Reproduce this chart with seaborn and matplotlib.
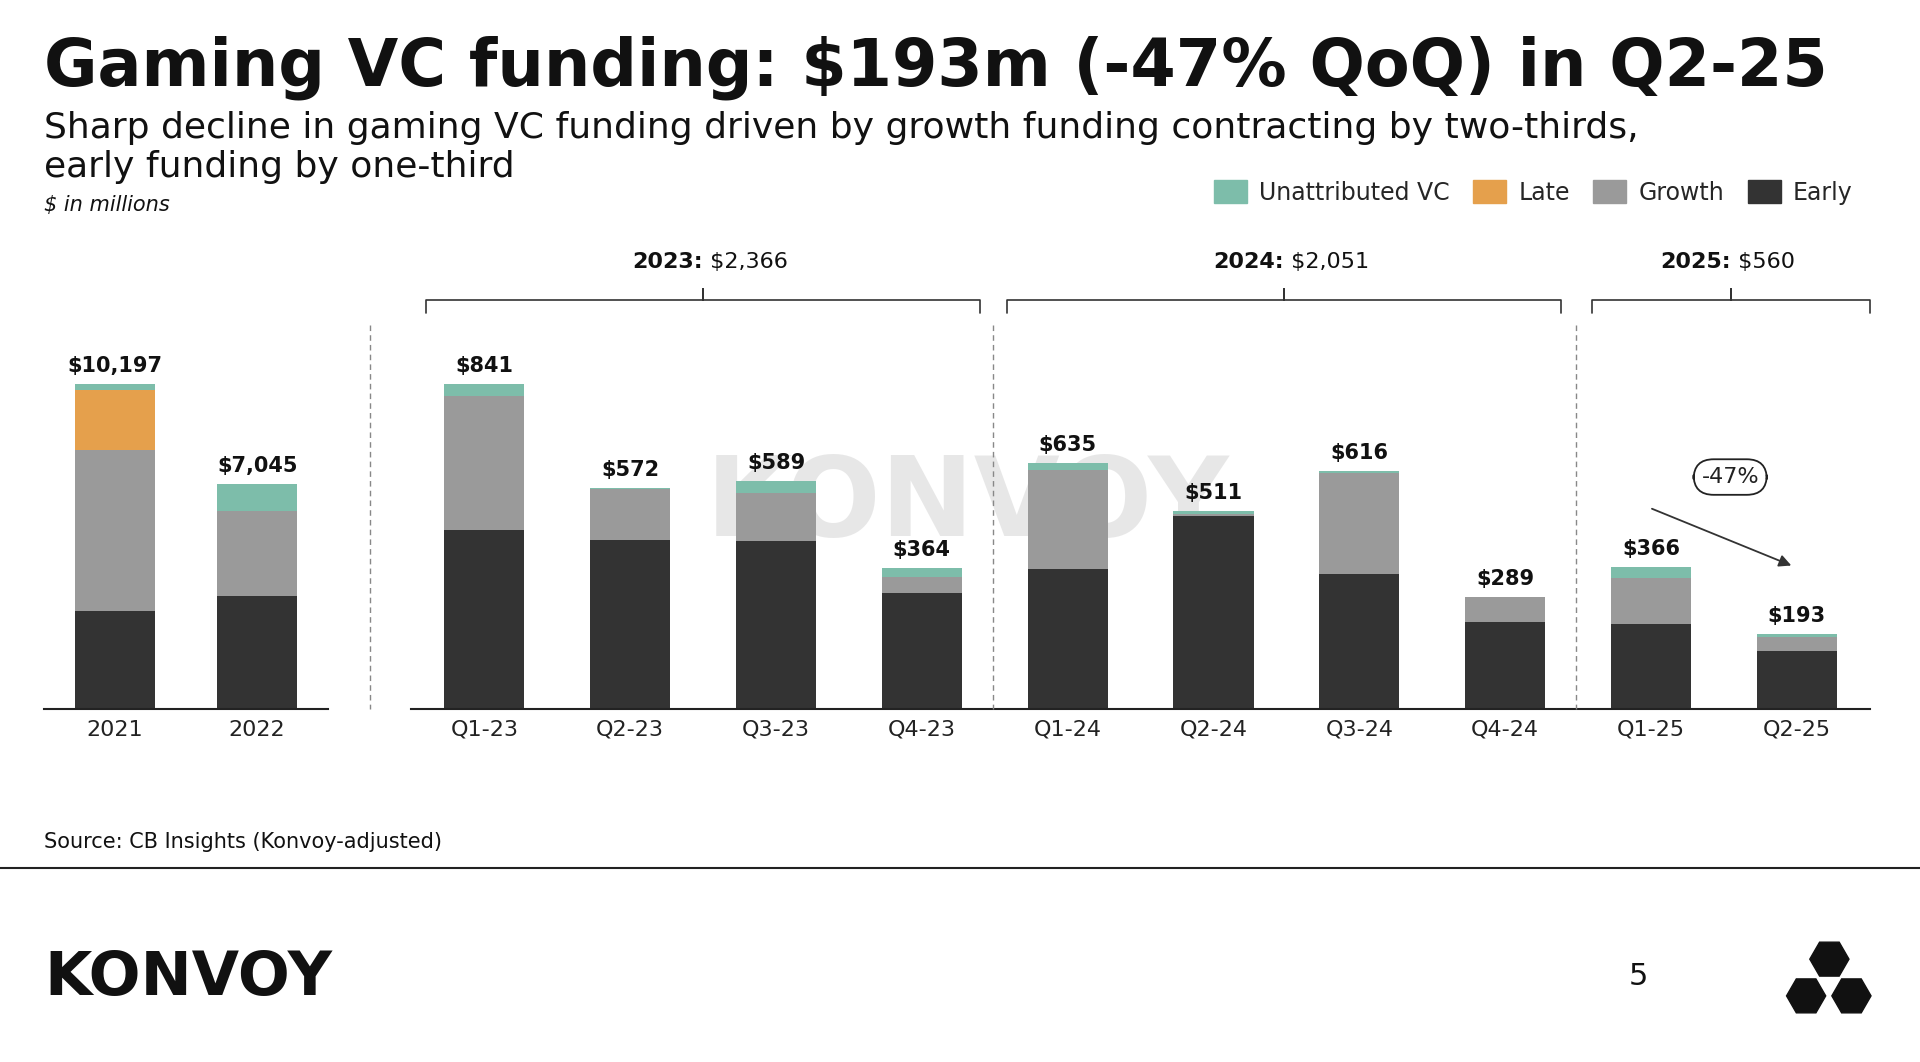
import matplotlib
matplotlib.use("Agg")
import matplotlib.pyplot as plt
import seaborn as sns
import pandas as pd
import numpy as np
from matplotlib.patches import RegularPolygon

sns.set_theme(style="white")
plt.rcParams['font.family'] = ['DejaVu Sans']

years = ["2021", "2022"]
y_early = [3080, 3540]
y_growth = [5040, 2660]
y_late = [1890, 0]
y_unattr = [187, 845]
y_totals = ["$10,197", "$7,045"]

quarters = ["Q1-23", "Q2-23", "Q3-23", "Q4-23", "Q1-24", "Q2-24", "Q3-24", "Q4-24", "Q1-25", "Q2-25"]
q_early = [463, 437, 434, 301, 361, 498, 349, 225, 219, 149]
q_growth = [346, 133, 124, 41, 257, 5, 260, 64, 120, 38]
q_late = [0, 0, 0, 0, 0, 0, 0, 0, 0, 0]
q_unattr = [32, 2, 31, 22, 17, 8, 7, 0, 27, 6]
q_totals = ["$841", "$572", "$589", "$364", "$635", "$511", "$616", "$289", "$366", "$193"]

groups = ["2023:", "2024:", "2025:"]
group_vals = [" $2,366", " $2,051", " $560"]

C_UN, C_LATE, C_GR, C_EAR = "#7dbdaa", "#e5a04c", "#9a9a9a", "#333333"

W, H = 1568, 866
fig = plt.figure(figsize=(19.2, 10.62), dpi=100)
fx = lambda x: x / W
fy = lambda y: 1 - y / H

# watermark behind everything
fig.text(fx(790), fy(412), "KONVOY", ha="center", va="center", fontsize=80, fontweight="bold",
         color="#d8d8d8", alpha=0.6, zorder=-5)

def stacked(ax, cats, early, growth, late, unattr, labels, width):
    ax.patch.set_alpha(0)
    e = np.array(early); g = np.array(growth); l = np.array(late); u = np.array(unattr)
    layers = [(e + g + l + u, C_UN), (e + g + l, C_LATE), (e + g, C_GR), (e, C_EAR)]
    for vals, col in layers:
        df = pd.DataFrame({"cat": cats, "v": vals})
        sns.barplot(data=df, x="cat", y="v", order=cats, color=col, saturation=1,
                    width=width, ax=ax, linewidth=0)
    tot = e + g + l + u
    top = ax.get_ylim()[1]
    for i, t in enumerate(tot):
        ax.text(i, t + top * 0.025, labels[i], ha="center", va="bottom",
                fontsize=15, fontweight="bold", color="#111111")
    ax.set_xlabel(""); ax.set_ylabel("")
    ax.set_yticks([])
    for s in ["top", "right", "left"]:
        ax.spines[s].set_visible(False)
    ax.spines["bottom"].set_color("#222222")
    ax.spines["bottom"].set_linewidth(1.5)
    ax.tick_params(axis="x", labelsize=16, colors="#222222", length=0, pad=8)

axL = fig.add_axes([fx(36), fy(578), fx(268 - 36), (578 - 313) / H])
axL.set_ylim(0, 10197)
stacked(axL, years, y_early, y_growth, y_late, y_unattr, y_totals, 0.56)
axL.set_xlim(-0.5, 1.5)
axL.set_ylim(0, 10197)

axR = fig.add_axes([fx(336), fy(578), fx(1527 - 336), (578 - 313) / H])
axR.set_ylim(0, 841)
stacked(axR, quarters, q_early, q_growth, q_late, q_unattr, q_totals, 0.55)
axR.set_xlim(-0.5, 9.5)
axR.set_ylim(0, 841)

# dashed separators
for xs in [302, 811, 1287]:
    fig.add_artist(plt.Line2D([fx(xs)] * 2, [fy(265), fy(578)], color="#888888", ls=(0, (4, 3)), lw=1))

# brackets
for (x0, x1), gname, gval in zip([(348, 800), (822, 1275), (1300, 1527)], groups, group_vals):
    xm = (x0 + x1) / 2
    xs = [x0, x0, xm, xm, xm, x1, x1]
    ys = [255, 245, 245, 236, 245, 245, 255]
    fig.add_artist(plt.Line2D([fx(v) for v in xs], [fy(v) for v in ys], color="#333333", lw=1.2))
    fig.text(fx(xm), fy(214), gname, ha="right", va="center", fontsize=16, fontweight="bold", color="#111111")
    fig.text(fx(xm), fy(214), gval, ha="left", va="center", fontsize=16, color="#111111")

# -47% annotation
fig.add_artist(matplotlib.patches.FancyArrowPatch((fx(1347), fy(414)), (fx(1465), fy(462)),
               arrowstyle="-|>", mutation_scale=18, color="#333333", lw=1.3,
               transform=fig.transFigure))
fig.text(fx(1413), fy(389), "-47%", ha="center", va="center", fontsize=16, color="#222222",
         bbox=dict(boxstyle="round,pad=0.35,rounding_size=0.9", fc="white", ec="#222222", lw=1.3))

# titles
fig.text(fx(36), fy(55), "Gaming VC funding: $193m (-47% QoQ) in Q2-25", fontsize=47,
         fontweight="bold", va="center", ha="left", color="#111111")
fig.text(fx(36), fy(104), "Sharp decline in gaming VC funding driven by growth funding contracting by two-thirds,",
         fontsize=26, va="center", ha="left", color="#111111")
fig.text(fx(36), fy(136), "early funding by one-third", fontsize=26, va="center", ha="left", color="#111111")
fig.text(fx(36), fy(167), "$ in millions", fontsize=15, style="italic", va="center", ha="left", color="#111111")

# legend
handles = [matplotlib.patches.Patch(color=c) for c in [C_UN, C_LATE, C_GR, C_EAR]]
fig.legend(handles, ["Unattributed VC", "Late", "Growth", "Early"], loc="center right",
           bbox_to_anchor=(fx(1530), fy(157)), ncol=4, frameon=False, fontsize=17,
           handlelength=1.4, handleheight=1.1, columnspacing=1.0, handletextpad=0.5)

# footer
fig.text(fx(36), fy(687), "Source: CB Insights (Konvoy-adjusted)", fontsize=15, va="center", color="#111111")
fig.add_artist(plt.Line2D([0, 1], [fy(708)] * 2, color="#222222", lw=1.5))
fig.text(fx(36), fy(798), "KONVOY", fontsize=44, fontweight="bold", va="center", color="#111111")
fig.text(fx(1338), fy(796), "5", fontsize=22, va="center", ha="center", color="#111111")
sc = 19.2 / W
for cx, cy in [(1494, 782), (1475, 812), (1512, 812)]:
    fig.add_artist(RegularPolygon((cx * sc, (H - cy) * sc), numVertices=6, radius=16 * sc,
                                  orientation=np.pi / 6, color="#111111",
                                  transform=fig.dpi_scale_trans))

fig.savefig("out.png", dpi=100, facecolor="white")
